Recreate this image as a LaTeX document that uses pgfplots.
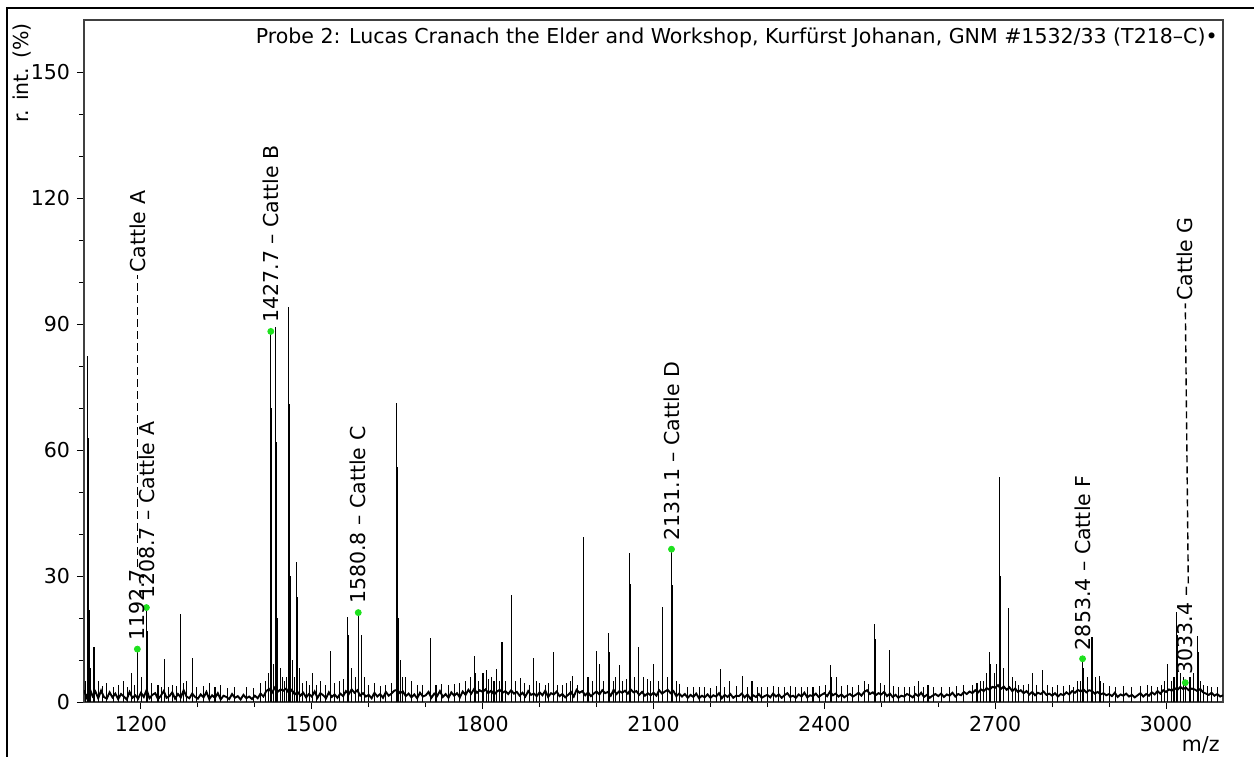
\documentclass[border=0pt]{standalone}
\usepackage{fontspec}
\setmainfont{DejaVu Sans}
\usepackage{pgfplots}
\pgfplotsset{compat=1.18}
\definecolor{peakgreen}{RGB}{30,225,30}

\begin{document}
\begin{tikzpicture}[font=\fontsize{10.3}{12}\selectfont]
\begin{axis}[
  at={(0,0)}, anchor=south west,
  scale only axis, width=569.5bp, height=341bp,
  xmin=1100, xmax=3100, ymin=0, ymax=162.5,
  xtick={1200,1500,...,3000}, ytick={0,30,...,150},
  minor x tick num=2, minor y tick num=2,
  tick align=outside, xtick pos=lower, ytick pos=left,
  major tick length=3.5bp, minor tick length=2.5bp,
  tick style={black, line width=0.5bp},
  axis line style={black!75, line width=0.6bp},
  /pgf/number format/assume math mode=true,
  /pgf/number format/1000 sep={},
  tick label style={font=\fontsize{10.3}{12}\selectfont},
  clip mode=individual,
]
% baseline noise
\addplot[black, line width=0.95bp] coordinates {
(1100,2.8)(1105,1.0)(1110,3.2)(1115,1.4)(1120,2.5)(1125,0.9)(1130,2.7)(1135,1.2)(1140,0.8)(1145,2.3)
(1150,1.1)(1155,2.0)(1160,0.7)(1165,1.9)(1170,1.3)(1175,0.6)(1180,2.4)(1185,1.0)(1190,1.6)(1195,0.8)
(1200,2.2)(1205,1.2)(1210,2.9)(1215,0.9)(1220,1.7)(1225,2.1)(1230,0.7)(1235,1.5)(1240,2.6)(1245,1.0)
(1250,1.4)(1255,2.3)(1260,0.8)(1265,1.9)(1270,1.1)(1275,2.8)(1280,1.3)(1285,0.9)(1290,2.0)(1295,1.2)
(1300,0.8)(1305,1.8)(1310,1.1)(1315,2.4)(1320,0.7)(1325,1.6)(1330,1.0)(1335,2.1)(1340,0.6)(1345,1.5)
(1350,1.2)(1355,0.7)(1360,1.9)(1365,1.0)(1370,1.4)(1375,0.6)(1380,1.7)(1385,0.9)(1390,1.3)(1395,0.7)
(1400,1.5)(1405,0.9)(1410,2.0)(1415,1.3)(1420,2.6)(1425,3.1)(1430,2.2)(1435,3.4)(1440,2.4)(1445,3.0)
(1450,2.7)(1455,3.2)(1460,2.1)(1465,2.9)(1470,1.8)(1475,2.4)(1480,1.5)(1485,2.2)(1490,1.1)(1495,1.9)
(1500,1.3)(1505,2.5)(1510,1.0)(1515,2.1)(1520,1.6)(1525,0.9)(1530,2.3)(1535,1.2)(1540,1.8)(1545,1.0)
(1550,2.0)(1555,1.4)(1560,2.6)(1565,1.9)(1570,3.0)(1575,2.2)(1580,2.8)(1585,1.5)(1590,2.1)(1595,1.3)
(1600,1.7)(1605,0.9)(1610,2.2)(1615,1.3)(1620,1.9)(1625,1.0)(1630,2.4)(1635,1.5)(1640,2.0)(1645,2.7)
(1650,2.9)(1655,2.1)(1660,2.5)(1665,1.4)(1670,2.0)(1675,1.1)(1680,1.8)(1685,0.9)(1690,2.2)(1695,1.3)
(1700,1.6)(1705,2.4)(1710,1.0)(1715,2.0)(1720,1.4)(1725,2.6)(1730,1.2)(1735,1.9)(1740,1.0)(1745,2.3)
(1750,1.5)(1755,2.1)(1760,1.1)(1765,2.5)(1770,1.7)(1775,2.9)(1780,2.0)(1785,3.1)(1790,2.2)(1795,2.8)
(1800,2.4)(1805,3.0)(1810,2.1)(1815,2.7)(1820,1.8)(1825,2.5)(1830,2.9)(1835,2.2)(1840,2.6)(1845,1.9)
(1850,2.8)(1855,2.0)(1860,2.4)(1865,1.5)(1870,2.2)(1875,1.3)(1880,2.6)(1885,1.7)(1890,2.0)(1895,1.4)
(1900,2.3)(1905,1.6)(1910,2.7)(1915,1.2)(1920,2.1)(1925,1.8)(1930,2.5)(1935,1.4)(1940,1.9)(1945,1.1)
(1950,1.7)(1955,2.4)(1960,1.3)(1965,2.9)(1970,2.2)(1975,2.6)(1980,1.6)(1985,2.3)(1990,1.4)(1995,2.0)
(2000,2.5)(2005,1.8)(2010,2.8)(2015,2.1)(2020,2.4)(2025,1.5)(2030,2.9)(2035,1.9)(2040,2.6)(2045,2.2)
(2050,2.7)(2055,2.0)(2060,3.0)(2065,2.3)(2070,2.6)(2075,1.7)(2080,2.4)(2085,1.5)(2090,2.1)(2095,1.6)
(2100,2.2)(2105,1.5)(2110,2.8)(2115,2.0)(2120,2.5)(2125,2.9)(2130,2.1)(2135,2.6)(2140,1.4)(2145,2.0)
(2150,1.3)(2155,1.9)(2160,1.0)(2165,1.7)(2170,1.2)(2175,2.0)(2180,0.9)(2185,1.5)(2190,1.1)(2195,1.8)
(2200,1.0)(2205,1.6)(2210,1.3)(2215,2.1)(2220,0.9)(2225,1.7)(2230,1.2)(2235,1.9)(2240,1.0)(2245,1.5)
(2250,1.4)(2255,2.0)(2260,1.1)(2265,1.8)(2270,0.8)(2275,1.6)(2280,1.2)(2285,1.9)(2290,1.0)(2295,1.4)
(2300,1.7)(2305,1.1)(2310,2.0)(2315,1.3)(2320,1.8)(2325,1.0)(2330,1.6)(2335,2.1)(2340,1.2)(2345,1.5)
(2350,1.0)(2355,1.8)(2360,1.3)(2365,2.2)(2370,1.1)(2375,1.6)(2380,1.4)(2385,2.0)(2390,1.2)(2395,1.7)
(2400,2.1)(2405,1.4)(2410,2.5)(2415,1.6)(2420,2.0)(2425,1.3)(2430,1.8)(2435,1.1)(2440,1.6)(2445,1.9)
(2450,1.3)(2455,1.7)(2460,2.2)(2465,1.5)(2470,2.4)(2475,2.8)(2480,1.9)(2485,2.3)(2490,1.6)(2495,2.1)
(2500,1.8)(2505,2.4)(2510,1.4)(2515,2.0)(2520,1.2)(2525,1.7)(2530,1.0)(2535,1.5)(2540,1.3)(2545,1.9)
(2550,1.6)(2555,1.1)(2560,1.9)(2565,1.4)(2570,2.2)(2575,1.2)(2580,1.7)(2585,1.0)(2590,1.5)(2595,1.9)
(2600,1.4)(2605,2.0)(2610,1.2)(2615,1.8)(2620,1.5)(2625,2.2)(2630,1.3)(2635,1.9)(2640,1.6)(2645,2.4)
(2650,1.9)(2655,2.5)(2660,2.1)(2665,2.8)(2670,2.3)(2675,3.0)(2680,2.6)(2685,3.3)(2690,2.9)(2695,3.6)
(2700,3.4)(2705,4.0)(2710,3.1)(2715,3.7)(2720,2.9)(2725,3.5)(2730,2.6)(2735,3.2)(2740,2.4)(2745,2.8)
(2750,2.1)(2755,2.6)(2760,1.8)(2765,2.4)(2770,1.6)(2775,2.2)(2780,1.9)(2785,2.5)(2790,1.7)(2795,2.0)
(2800,1.5)(2805,2.1)(2810,1.3)(2815,1.9)(2820,1.6)(2825,2.3)(2830,1.8)(2835,2.6)(2840,2.2)(2845,2.9)
(2850,2.5)(2855,3.0)(2860,2.3)(2865,2.8)(2870,2.6)(2875,2.0)(2880,2.4)(2885,1.8)(2890,2.1)(2895,1.6)
(2900,1.9)(2905,1.4)(2910,2.2)(2915,1.2)(2920,1.8)(2925,1.5)(2930,2.0)(2935,1.3)(2940,1.7)(2945,1.1)
(2950,1.6)(2955,2.1)(2960,1.3)(2965,1.9)(2970,1.5)(2975,2.3)(2980,1.8)(2985,2.6)(2990,2.0)(2995,2.8)
(3000,2.4)(3005,3.0)(3010,2.7)(3015,3.3)(3020,2.9)(3025,3.6)(3030,3.1)(3035,3.4)(3040,2.8)(3045,3.2)
(3050,3.0)(3055,2.6)(3060,3.1)(3065,2.3)(3070,2.0)(3075,1.7)(3080,2.2)(3085,1.5)(3090,1.9)(3095,1.3)
(3100,1.6)
};
% peaks
\addplot[ycomb, black, line width=0.55bp] coordinates {
(1102,5)(1106.5,82.4)(1107.5,63)(1109,22)(1112,8)(1117.6,13)(1125,5)(1133,3.8)(1140,4.5)(1152,3.5)
(1160,4)(1170,5)(1176,3.6)(1183,6.8)(1188,4)(1193.7,12.6)(1194.7,8)(1201,6)(1209.6,22.5)(1210.6,17)
(1218,4.5)(1230,4)(1236,3.5)(1242,10.2)(1248,3.6)(1255,4)(1262,3.8)(1268.7,21)(1269.7,15)(1274,4.5)
(1280,5)(1290,10.5)(1298,3.6)(1310,3.8)(1320,4.5)(1330,3.5)(1340,4)(1352,3.4)(1365,3.6)(1385,3.5)
(1398,3.4)(1410,4.5)(1418,5)(1424,7)
(1428,88.3)(1429,70)(1430,36)(1433,9)(1437,89.4)(1438,62)(1440,20)(1445,8)(1449,6)(1452,5)(1456,6)
(1459.7,94)(1460.7,71)(1462,30)(1466,10)(1469,6)(1473.7,33.4)(1474.7,25)(1478,8)(1484,4.5)(1490,5)
(1496,4)(1502,6.8)(1509,4)(1515,5)(1524,4)(1533.6,12.1)(1540,4.5)(1548,5)(1555,5.5)(1562.8,20.3)(1563.8,16)(1570,8)
(1576,6)(1581.6,21.3)(1582.6,17)(1587,16)(1592,6)(1600,4)(1610,4.5)(1620,3.8)(1630,4)(1640,4.5)
(1649.5,71.3)(1650.5,56)(1652,20)(1656.5,10)(1660,6)(1665,6)(1675,5)(1685,4)(1695,4)(1708,15.2)(1709,10)
(1718,4)(1728,4.2)(1740,4)(1750,4.2)(1760,4.5)(1770,5)(1778,6)(1786,11)(1787,7)(1793,5)(1800.6,7)(1806,7.7)
(1811,5.5)(1815,6)(1820,5)(1825,7.8)(1829,5)(1834,14.4)(1835,10)(1840,5)(1850,25.5)(1851,19)(1857,5)(1866,5.8)
(1874,4.5)(1882,4)(1889.7,10.4)(1895,5)(1900,4.5)(1910,4)(1916,4.5)
(1923.7,11.8)(1932,4)(1940,4)(1948,4.5)(1954,5)(1958,6.3)(1966,4)(1976.5,39.4)(1977.5,30)(1985,6)(1993,5)(1999.3,12.2)(2005,9)
(2012,5)(2021,16.5)(2022,12)(2030,5)(2034,6)(2040,8.8)(2045,5)(2052,5.5)(2058.4,35.4)(2059.4,28)(2066,6)(2073,13)(2074,10)
(2082,6)(2090,5.5)(2095,5)(2100,9)(2108,5)(2115.3,22.7)(2116.3,18)(2124,6)(2131.6,36.4)(2132.6,27.9)(2134,10)(2140,5)(2145,4.4)
(2160,3.6)(2170,3.5)(2180,3.6)(2190,3.5)(2200,3.4)(2210,3.8)(2217,7.8)(2225,3.6)(2233,5)(2245,3.8)(2257,6.2)(2265,3.6)(2273,5)
(2282,3.5)(2290,3.5)(2300,3.6)(2310,3.8)(2320,3.5)(2330,3.5)(2340,3.8)(2350,3.5)(2360,3.6)(2370,3.5)(2380,3.6)(2392,3.8)
(2402,4)(2411,8.8)(2412,6)(2421,6)(2430,3.8)(2440,4)(2450,3.6)(2460,4)(2471,5)(2478,4.2)(2488.4,18.6)(2489.4,15)(2499,4.5)(2506,4)
(2514,12.5)(2515,9)(2522,3.8)(2530,3.5)(2540,3.5)(2550,3.6)(2558,3.8)(2566,5)(2574,3.6)(2582,4)(2592,3.5)(2605,3.6)
(2620,3.5)(2632,3.8)(2645,4)(2660,4)(2668,4.5)(2674,5)(2680,5)(2685,7)(2690.5,12)(2691.5,9)(2698,7)(2702,9)
(2707,53.6)(2708,48)(2709.5,30)(2715,8)(2722.7,22.5)(2723.7,18)(2730,6)(2736,5)(2741,4)(2750,4)(2758,4.2)(2765,6.8)
(2772,4)(2782.5,7.6)(2792,4)(2800,3.6)(2810,4)(2820,3.8)(2830,4)(2838,3.5)(2845,5)(2849,5)(2853.4,10.3)(2854.4,8)(2862,6)(2870,15.6)(2871,12)
(2876,6)(2882.6,6.2)(2884,5)(2890,4.5)(2900,3.8)(2912,3.6)(2925,3.8)(2940,3.6)(2955,3.8)(2967,4)(2975,3.8)(2985,3.5)(2992,4)
(2998,5)(3003,9)(3010,5)(3014,6)(3019,21.5)(3020,16)(3026,7)(3030,6)
(3033.8,4.6)(3042,6)(3048,7)(3055.5,15.7)(3056.5,12)(3060,5)(3066,4)(3072,3.8)(3080,3.5)(3090,3.6)
};
% labelled peaks
\addplot[only marks, mark=*, mark size=1.5bp, color=peakgreen] coordinates {
(1193.7,12.6)(1209.6,22.5)(1428,88.3)(1581.6,21.3)(2131.6,36.4)(2853.4,10.3)(3033.8,4.6)
};
\node[rotate=90, anchor=west, inner sep=1bp] (a1) at (axis cs:1193.7,14) {1192.7};
\node[rotate=90, anchor=west, inner sep=1bp] (a2) at (axis cs:1193.7,101.7) {Cattle A};
\draw[line width=0.7bp, dash pattern=on 4bp off 2bp] (a1.east) -- (a2.west);
\node[rotate=90, anchor=west, inner sep=1bp] at (axis cs:1209.6,24) {1208.7 – Cattle A};
\node[rotate=90, anchor=west, inner sep=1bp] at (axis cs:1428,89.8) {1427.7 – Cattle B};
\node[rotate=90, anchor=west, inner sep=1bp] at (axis cs:1581.6,22.8) {1580.8 – Cattle C};
\node[rotate=90, anchor=west, inner sep=1bp] at (axis cs:2131.6,37.9) {2131.1 – Cattle D};
\node[rotate=90, anchor=west, inner sep=1bp] at (axis cs:2853.4,11.8) {2853.4 – Cattle F};
\node[rotate=90, anchor=west, inner sep=1bp] (g1) at (axis cs:3033.8,6) {3033.4 –};
\node[rotate=90, anchor=west, inner sep=1bp] (g2) at (axis cs:3033.8,95) {Cattle G};
\draw[line width=0.7bp, dash pattern=on 3.5bp off 2bp] ([xshift=1.5bp]g1.east) -- (g2.west);
\node[anchor=east, inner sep=0pt] at (567bp,332bp)
  {Probe 2: Lucas Cranach the Elder and Workshop, Kurfürst Johanan, GNM \#1532/33 (T218–C)•};
\end{axis}
\node[rotate=90, anchor=east, inner sep=0pt] at (-31bp,339.5bp) {r. int. (\%)};
\node[anchor=base east, inner sep=0pt] at (568bp,-24.5bp) {m/z};
\draw[line width=1bp] (-38.5bp,-40bp) -- (-38.5bp,347bp) -- (600bp,347bp);
\pgfresetboundingbox
\useasboundingbox (-42bp,-27.5bp) rectangle (585bp,351bp);
\end{tikzpicture}
\end{document}
